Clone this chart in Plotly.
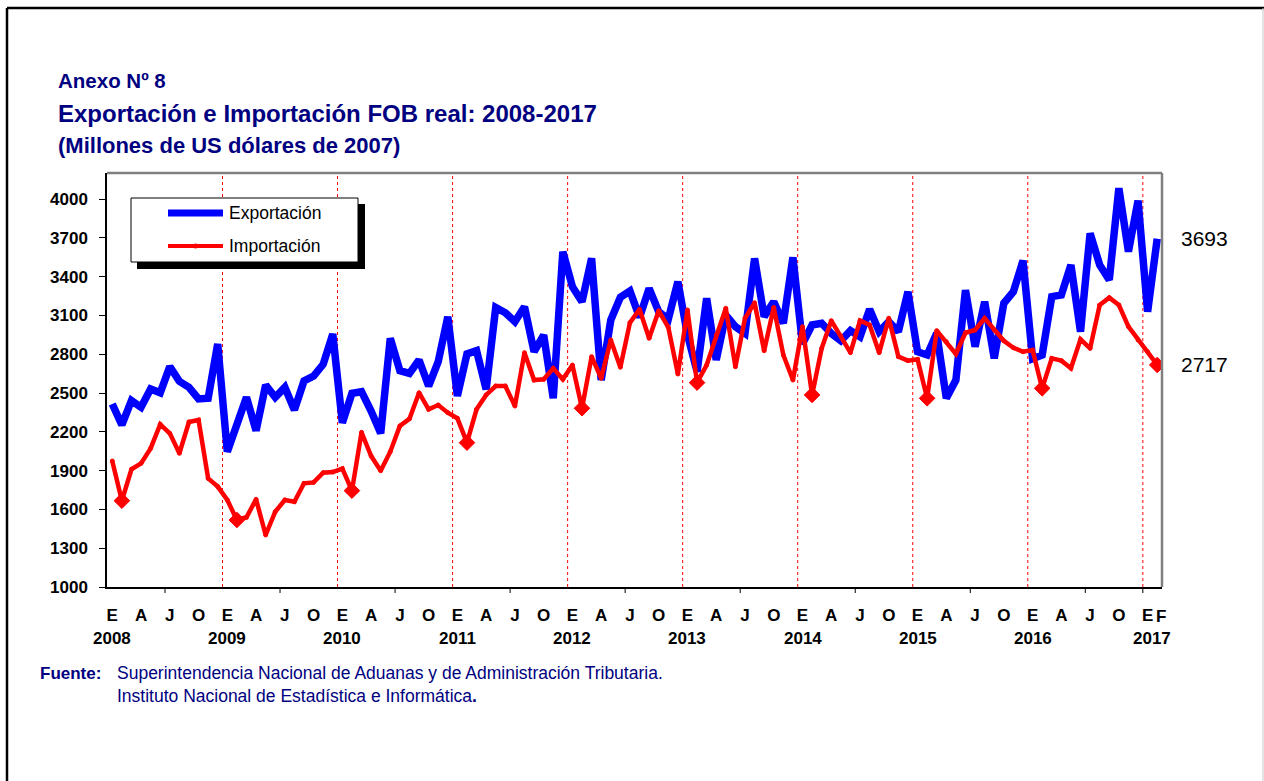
import plotly.graph_objects as go

# Monthly series, Jan 2008 .. Feb 2017 (millions of 2007 US dollars)
exportacion = [
    2415, 2253, 2441, 2389, 2531, 2502, 2704, 2590, 2544, 2454, 2459, 2879,  # 2008
    2046, 2270, 2467, 2209, 2562, 2467, 2544, 2369, 2593, 2631, 2722, 2956,  # 2009
    2270, 2498, 2510, 2360, 2188, 2923, 2673, 2652, 2755, 2554, 2742, 3090,  # 2010
    2477, 2802, 2827, 2528, 3162, 3121, 3051, 3167, 2819, 2948, 2459, 3593,  # 2011
    3322, 3206, 3541, 2600, 3064, 3240, 3289, 3085, 3309, 3129, 3070, 3361,  # 2012
    2950, 2665, 3232, 2755, 3103, 3013, 2961, 3541, 3090, 3206, 3039, 3549,  # 2013
    2880, 3026, 3039, 2961, 2904, 2982, 2935, 3147, 2974, 3051, 2974, 3283,  # 2014
    2819, 2794, 2961, 2459, 2600, 3296, 2858, 3206, 2768, 3194, 3283, 3523,  # 2015
    2765, 2794, 3245, 3258, 3490, 2974, 3735, 3490, 3374, 4083, 3593, 3987,  # 2016
    3129, 3693,                                                              # 2017
]
importacion = [
    1974, 1667, 1910, 1956, 2072, 2258, 2188, 2034, 2276, 2291, 1840, 1776,  # 2008
    1673, 1518, 1539, 1678, 1402, 1582, 1673, 1659, 1802, 1809, 1884, 1889,  # 2009
    1915, 1745, 2196, 2013, 1899, 2046, 2245, 2301, 2502, 2374, 2407, 2348,  # 2010
    2304, 2116, 2374, 2485, 2554, 2554, 2399, 2812, 2600, 2606, 2691, 2606,  # 2011
    2716, 2382, 2781, 2614, 2910, 2699, 3044, 3147, 2923, 3136, 3008, 2647,  # 2012
    3142, 2580, 2716, 2948, 3155, 2703, 3078, 3198, 2827, 3162, 2794, 2600,  # 2013
    3013, 2485, 2845, 3059, 2941, 2812, 3059, 3026, 2812, 3078, 2781, 2750,  # 2014
    2760, 2459, 2982, 2897, 2802, 2966, 2987, 3078, 2987, 2904, 2850, 2819,  # 2015
    2832, 2536, 2768, 2750, 2691, 2915, 2845, 3180, 3237, 3180, 3013, 2910,  # 2016
    2819, 2717,                                                              # 2017
]
meses = ["E", "F", "M", "A", "M", "J", "J", "A", "S", "O", "N", "D"]
anios = ["2008", "2009", "2010", "2011", "2012", "2013", "2014", "2015", "2016", "2017"]
y_ticks = [1000, 1300, 1600, 1900, 2200, 2500, 2800, 3100, 3400, 3700, 4000]

n = len(exportacion)
idx = list(range(n))

NAVY = "#000080"
SANS = "Liberation Sans, Arial, sans-serif"

# page geometry (pixels) -> paper coordinates
W, H = 1264, 781
L, R, T, B = 107, 1162, 173, 587


def px(x):
    return (x - L) / (R - L)


def py(y):
    return (B - y) / (B - T)


fig = go.Figure()

fig.add_trace(go.Scatter(
    x=idx, y=exportacion, mode="lines", name="Exportación",
    line=dict(color="#0000FF", width=7.5), showlegend=False,
))

# big diamonds mark each February
sym = ["diamond" if i % 12 == 1 else "circle" for i in idx]
size = [12 if i % 12 == 1 else 4 for i in idx]
fig.add_trace(go.Scatter(
    x=idx, y=importacion, mode="lines+markers", name="Importación",
    line=dict(color="#FF0000", width=4.5),
    marker=dict(symbol=sym, size=size, color="#FF0000", opacity=1,
                line=dict(width=1, color="#FF0000")),
    showlegend=False,
))

# month tick labels (E, A, J, O ...); the final month gets its own label below
tickvals = [i for i in idx if i % 3 == 0 and i != n - 1]
ticktext = [meses[i % 12] for i in tickvals]

shapes = []
annotations = []

annotations.append(dict(x=idx[-1], y=0, xref="x", yref="paper", text=f"<b>{meses[(n - 1) % 12]}</b>",
                        showarrow=False, xanchor="center", yanchor="top", xshift=4, yshift=-18,
                        font=dict(family=SANS, size=17, color="black")))

# year boundaries: dotted red verticals
for k in range(1, len(anios)):
    xb = 12 * k - 0.5
    if xb < n:
        shapes.append(dict(type="line", xref="x", yref="paper", x0=xb, x1=xb, y0=0, y1=1,
                           line=dict(color="#FF0000", width=1, dash="dot"), layer="below"))

# small tick marks under the axis
tick_marks = [12 * k + 5.5 for k in range(len(anios)) if 12 * k + 5.5 < n] + [12 * (len(anios) - 1) - 0.5]
for xt in tick_marks:
    shapes.append(dict(type="line", xref="x", yref="paper", x0=xt, x1=xt, y0=0, y1=-6 / (B - T),
                       line=dict(color="black", width=1)))

# year labels
for k, a in enumerate(anios):
    first = 12 * k
    months_in_year = [i for i in idx if first <= i < first + 12]
    xc = first if len(months_in_year) == 12 else sum(months_in_year) / len(months_in_year)
    annotations.append(dict(x=xc, y=py(638), xref="x", yref="paper", text=f"<b>{a}</b>",
                            showarrow=False, font=dict(family=SANS, size=17, color="black"),
                            xanchor="center", yanchor="middle"))

# plot frame: gray top / right
shapes.append(dict(type="line", xref="paper", yref="paper", x0=0, x1=1, y0=1, y1=1,
                   line=dict(color="#808080", width=2.5)))
shapes.append(dict(type="line", xref="paper", yref="paper", x0=1, x1=1, y0=0, y1=1,
                   line=dict(color="#808080", width=2.5)))

# outer page frame
shapes.append(dict(type="line", xref="paper", yref="paper", x0=px(7), x1=px(1264), y0=py(8), y1=py(8),
                   line=dict(color="black", width=2.5)))
shapes.append(dict(type="line", xref="paper", yref="paper", x0=px(7), x1=px(7), y0=py(8), y1=py(790),
                   line=dict(color="black", width=2.5)))
shapes.append(dict(type="line", xref="paper", yref="paper", x0=px(1263), x1=px(1263), y0=py(8), y1=py(790),
                   line=dict(color="#c8c8c8", width=1)))

# legend box with drop shadow
shapes.append(dict(type="rect", xref="paper", yref="paper", x0=px(137), x1=px(365), y0=py(269), y1=py(204),
                   fillcolor="black", line=dict(width=0)))
shapes.append(dict(type="rect", xref="paper", yref="paper", x0=px(131), x1=px(358), y0=py(262), y1=py(198),
                   fillcolor="white", line=dict(color="black", width=1)))
shapes.append(dict(type="line", xref="paper", yref="paper", x0=px(168), x1=px(223), y0=py(213), y1=py(213),
                   line=dict(color="#0000FF", width=7)))
shapes.append(dict(type="line", xref="paper", yref="paper", x0=px(168), x1=px(223), y0=py(246), y1=py(246),
                   line=dict(color="#FF0000", width=4)))
shapes.append(dict(type="circle", xref="paper", yref="paper", x0=px(193), x1=px(198), y0=py(248.5), y1=py(243.5),
                   fillcolor="#FF0000", line=dict(width=0)))
for name, yy in [("Exportación", 213), ("Importación", 246)]:
    annotations.append(dict(x=px(227), y=py(yy), xref="paper", yref="paper", text=name, showarrow=False,
                            xanchor="left", yanchor="middle",
                            font=dict(family=SANS, size=17.5, color="black")))

# last values at the right edge
for serie in (exportacion, importacion):
    annotations.append(dict(x=idx[-1], y=serie[-1], xref="x", yref="y", text=f"{serie[-1]:.0f}",
                            showarrow=False, xanchor="left", yanchor="middle", xshift=22,
                            font=dict(family=SANS, size=21, color="black")))

# titles
annotations += [
    dict(x=px(56), y=py(81), xref="paper", yref="paper", text="<b>Anexo Nº 8</b>", showarrow=False,
         xanchor="left", yanchor="middle", font=dict(family=SANS, size=20.5, color=NAVY)),
    dict(x=px(56), y=py(113), xref="paper", yref="paper",
         text="<b>Exportación e Importación FOB real: 2008-2017</b>", showarrow=False,
         xanchor="left", yanchor="middle", font=dict(family=SANS, size=24, color=NAVY)),
    dict(x=px(56), y=py(146), xref="paper", yref="paper",
         text="<b>(Millones de US dólares de 2007)</b>", showarrow=False,
         xanchor="left", yanchor="middle", font=dict(family=SANS, size=22, color=NAVY)),
    dict(x=px(38), y=py(673), xref="paper", yref="paper", text="<b>Fuente:</b>", showarrow=False,
         xanchor="left", yanchor="middle", font=dict(family=SANS, size=17, color=NAVY)),
    dict(x=px(115), y=py(673), xref="paper", yref="paper",
         text="Superintendencia Nacional de Aduanas y de Administración Tributaria.", showarrow=False,
         xanchor="left", yanchor="middle", font=dict(family=SANS, size=17.5, color=NAVY)),
    dict(x=px(115), y=py(696), xref="paper", yref="paper",
         text="Instituto Nacional de Estadística e Informática<b>.</b>", showarrow=False,
         xanchor="left", yanchor="middle", font=dict(family=SANS, size=17.5, color=NAVY)),
]

fig.update_layout(
    width=W, height=H,
    margin=dict(l=L, r=W - R, t=T, b=H - B, pad=0),
    paper_bgcolor="white", plot_bgcolor="white",
    showlegend=False,
    shapes=shapes, annotations=annotations,
    xaxis=dict(
        range=[-0.55, n - 0.5], tickmode="array", tickvals=tickvals, ticktext=ticktext,
        tickangle=0, ticks="", showgrid=False, zeroline=False,
        showline=True, linecolor="black", linewidth=1.5,
        tickfont=dict(family=SANS, size=17, color="black", weight="bold"),
        ticklabelstandoff=12,
    ),
    yaxis=dict(
        range=[1000, 4201], tickmode="array", tickvals=y_ticks,
        ticks="outside", ticklen=6, tickcolor="black", tickwidth=1,
        showgrid=False, zeroline=False, showline=True, linecolor="black", linewidth=1.5,
        tickfont=dict(family=SANS, size=17, color="black", weight="bold"),
        ticklabelstandoff=8,
    ),
)

fig.write_html("out.html")
